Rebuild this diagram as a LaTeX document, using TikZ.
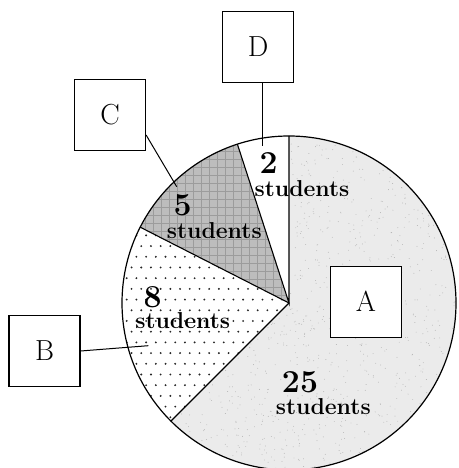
\documentclass[tikz,border=0pt]{standalone}
\usetikzlibrary{calc}
\begin{document}
\begin{tikzpicture}[x=1pt,y=1pt,
  lbox/.style={draw, line width=1.2pt, fill=white, minimum width=71pt, minimum height=71pt, inner sep=0pt, font=\fontsize{29}{29}\selectfont},
  cnt/.style={inner sep=0pt, font=\bfseries\fontsize{32}{32}\selectfont},
  stud/.style={inner sep=0pt, font=\bfseries\fontsize{23}{23}\selectfont},
  conn/.style={line width=1pt}]
\useasboundingbox (0,0) rectangle (458,468);
\fill[white] (0,0) rectangle (458,468);
\begin{scope}[shift={(289,165)}]
  % A sector
  \fill[gray!16] (0,0) -- (90:167) arc[start angle=90, end angle=-135, radius=167] -- cycle;
  \begin{scope}
    \clip (0,0) -- (90:167) arc[start angle=90, end angle=-135, radius=167] -- cycle;
    \pgfmathsetseed{7}
    \foreach \i in {1,...,1600}{
      \pgfmathsetmacro\rx{rnd*340-170}
      \pgfmathsetmacro\ry{rnd*340-170}
      \fill[gray!60] (\rx,\ry) circle (0.45);
    }
  \end{scope}
  % C sector
  \fill[gray!52] (0,0) -- (108:167) arc[start angle=108, end angle=153, radius=167] -- cycle;
  \begin{scope}
    \clip (0,0) -- (108:167) arc[start angle=108, end angle=153, radius=167] -- cycle;
    \draw[gray!78, line width=0.45pt] (-170,-4) grid[step=8] (4,172);
  \end{scope}
  % B sector dots
  \begin{scope}
    \clip (0,0) -- (153:167) arc[start angle=153, end angle=225, radius=167] -- cycle;
    \foreach \j in {0,...,18}{
      \foreach \k in {0,...,18}{
        \pgfmathsetmacro\dx{-172+\k*9.7+mod(\j,2)*4.85}
        \pgfmathsetmacro\dy{-125+\j*10.7}
        \fill[black!85] (\dx,\dy) circle (1.05);
      }
    }
  \end{scope}
  % boundaries
  \draw[line width=1.1pt] (90:167) -- (0,0) -- (108:167);
  \draw[line width=1.1pt] (153:167) -- (0,0) -- (225:167);
  \draw[line width=1.2pt] (0,0) circle (167);
\end{scope}
% boxes
\node[lbox] (A) at (366,166.3) {A};
\node[lbox] (B) at (44.5,117) {B};
\node[lbox] (C) at (110,353) {C};
\node[lbox] (D) at (258,421) {D};
% connector ends
\coordinate (dE) at (262,322);
\coordinate (cE) at (176.7,281.3);
\coordinate (bE) at (148.3,122.3);
\draw[conn] (D.south -| dE) -- (dE);
\draw[conn] ([yshift=-20pt]C.east) -- (cE);
\draw[conn] (B.east) -- (bE);
% labels
\node[cnt] (n2) at (268.7,305) {2};
\node[stud] (s2) at (302,279.5) {students};
\node[cnt] (n5) at (182.7,262.5) {5};
\node[stud] (s5) at (214.3,237) {students};
\node[cnt] (n8) at (152.7,171) {8};
\node[stud] (s8) at (182.7,147) {students};
\node[cnt] (n25) at (300,86) {25};
\node[stud] (s25) at (323.3,61.5) {students};
\end{tikzpicture}
\end{document}
